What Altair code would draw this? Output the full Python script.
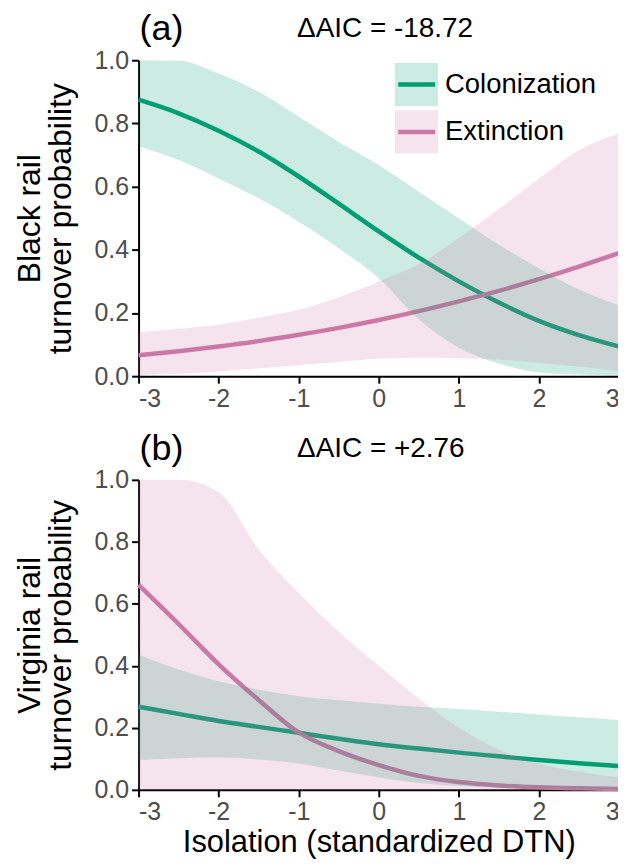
import altair as alt
import pandas as pd

# ---------------- data ----------------
x_vals = [-3, -2.5, -2, -1.5, -1, -0.5, 0, 0.5, 1, 1.5, 2, 2.5, 3]

# Panel (a): Black rail
a_col_mean = [0.875, 0.832, 0.777, 0.711, 0.632, 0.546, 0.458, 0.375, 0.300, 0.233, 0.175, 0.130, 0.094]
a_col_lo = [0.728, 0.684, 0.626, 0.563, 0.489, 0.405, 0.310, 0.180, 0.090, 0.040, 0.012, 0.005, 0.002]
a_col_hi = [1.000, 0.998, 0.958, 0.900, 0.821, 0.742, 0.668, 0.584, 0.500, 0.416, 0.342, 0.274, 0.224]
a_ext_mean = [0.066, 0.079, 0.094, 0.111, 0.131, 0.153, 0.178, 0.206, 0.237, 0.270, 0.307, 0.347, 0.390]
a_ext_lo = [0.003, 0.008, 0.015, 0.025, 0.035, 0.045, 0.055, 0.058, 0.057, 0.052, 0.042, 0.030, 0.016]
a_ext_hi = [0.139, 0.150, 0.163, 0.185, 0.210, 0.250, 0.300, 0.355, 0.437, 0.530, 0.625, 0.715, 0.768]

# Panel (b): Virginia rail
b_col_mean = [0.268, 0.245, 0.222, 0.203, 0.184, 0.165, 0.147, 0.133, 0.120, 0.108, 0.096, 0.086, 0.077]
b_col_lo = [0.096, 0.102, 0.105, 0.098, 0.085, 0.062, 0.040, 0.022, 0.012, 0.007, 0.004, 0.002, 0.001]
b_col_hi = [0.436, 0.388, 0.350, 0.323, 0.302, 0.289, 0.278, 0.268, 0.261, 0.252, 0.243, 0.234, 0.225]
b_ext_mean = [0.661, 0.535, 0.405, 0.290, 0.185, 0.125, 0.080, 0.045, 0.025, 0.014, 0.008, 0.005, 0.003]
b_ext_lo = [0.0, 0.0, 0.0, 0.0, 0.0, 0.0, 0.0, 0.0, 0.0, 0.0, 0.0, 0.0, 0.0]
b_ext_hi = [1.000, 1.000, 0.960, 0.775, 0.635, 0.510, 0.400, 0.295, 0.200, 0.130, 0.085, 0.058, 0.040]

series_names = ["Colonization", "Extinction"]
series_colors = ["#009E73", "#CC79A7"]
panel_tags = ["(a)", "(b)"]
aic_labels = ["\u0394AIC = -18.72", "\u0394AIC = +2.76"]
y_titles = [["Black rail", "turnover probability"], ["Virginia rail", "turnover probability"]]
x_title = "Isolation (standardized DTN)"
x_ticks = [-3, -2, -1, 0, 1, 2, 3]
y_ticks = [0.0, 0.2, 0.4, 0.6, 0.8, 1.0]

FONT = "Liberation Sans"
W = 482


def make_panel(means, los, his, ytitle, tag, aic, show_xtitle, height, legend):
    lab = "replace(format(datum.value, 'd'), '\u2212', '-')"
    if show_xtitle:
        xaxis = alt.Axis(values=x_ticks, title=x_title, labelExpr=lab)
    else:
        xaxis = alt.Axis(values=x_ticks, title=None, labelExpr=lab)
    xenc = alt.X("x:Q", scale=alt.Scale(domain=[-3, 3], nice=False, zero=False), axis=xaxis)
    yscale = alt.Scale(domain=[0, 1], nice=False)
    yaxis = alt.Axis(values=y_ticks, format=".1f", title=ytitle)

    line_layers = []
    area_layers = []
    for name, col, m, lo, hi in zip(series_names, series_colors, means, los, his):
        df = pd.DataFrame({"x": x_vals, "mean": m, "lo": lo, "hi": hi})
        base = alt.Chart(df)
        line_layers.append(
            base.mark_line(color=col, strokeWidth=4.5, interpolate="monotone").encode(
                x=xenc, y=alt.Y("mean:Q", scale=yscale, axis=yaxis)
            )
        )
        area_layers.append(
            base.mark_area(color=col, opacity=0.2, interpolate="monotone").encode(
                x=xenc, y=alt.Y("lo:Q", scale=yscale, axis=yaxis), y2="hi:Q"
            )
        )

    tag_layer = alt.Chart(pd.DataFrame({"t": [tag]})).mark_text(
        align="left", baseline="top", fontSize=36, font=FONT, color="black"
    ).encode(text="t:N", x=alt.value(1), y=alt.value(-48))
    aic_layer = alt.Chart(pd.DataFrame({"t": [aic]})).mark_text(
        align="left", baseline="top", fontSize=28, font=FONT, color="black"
    ).encode(text="t:N", x=alt.value(159), y=alt.value(-45))

    layers = line_layers + area_layers + [tag_layer, aic_layer]

    if legend:
        for i, (name, col) in enumerate(zip(series_names, series_colors)):
            y0 = 2.7 + i * 47.5
            ldf = pd.DataFrame({"name": [name]})
            layers.append(alt.Chart(ldf).mark_rect(color=col, opacity=0.2).encode(
                x=alt.value(257), x2=alt.value(300.5), y=alt.value(y0), y2=alt.value(y0 + 43.4)))
            layers.append(alt.Chart(ldf).mark_rule(color=col, strokeWidth=4.5).encode(
                x=alt.value(260.5), x2=alt.value(297.5), y=alt.value(y0 + 21.7)))
            layers.append(alt.Chart(ldf).mark_text(
                align="left", baseline="middle", fontSize=27.5, font=FONT, color="black"
            ).encode(text="name:N", x=alt.value(307.5), y=alt.value(y0 + 21.7)))

    return alt.layer(*layers).properties(width=W, height=height)


panel_a = make_panel([a_col_mean, a_ext_mean], [a_col_lo, a_ext_lo], [a_col_hi, a_ext_hi],
                     y_titles[0], panel_tags[0], aic_labels[0], False, 317, True)
panel_b = make_panel([b_col_mean, b_ext_mean], [b_col_lo, b_ext_lo], [b_col_hi, b_ext_hi],
                     y_titles[1], panel_tags[1], aic_labels[1], True, 311, False)

chart = alt.vconcat(panel_a, panel_b, spacing=20).properties(
    padding={"left": 5, "top": 2, "right": -10, "bottom": 0}
).configure(font=FONT).configure_axis(
    domainColor="black", domainWidth=2, tickColor="black", tickWidth=2, tickSize=7,
    labelColor="#4D4D4D", labelFontSize=25, labelFont=FONT, labelPadding=3,
    titleFont=FONT, titleFontSize=32, titleFontWeight="normal", titleColor="black",
    titleLineHeight=31, grid=False
).configure_axisY(titlePadding=17).configure_axisX(titlePadding=3, titleFontSize=31).configure_view(strokeWidth=0)

chart.save("out.html", embed_options={"renderer": "svg", "actions": False})
